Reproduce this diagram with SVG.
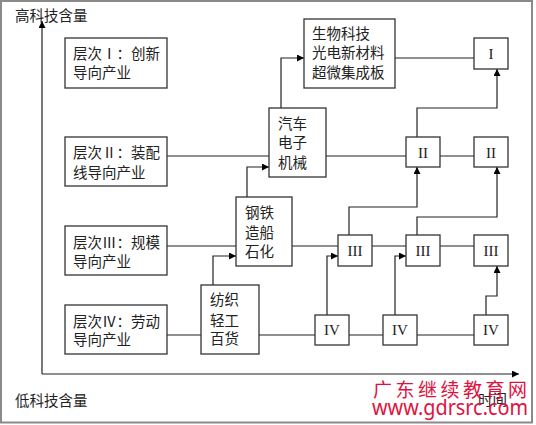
<svg xmlns="http://www.w3.org/2000/svg" width="536" height="425" viewBox="0 0 536 425">
<defs>
<marker id="ah" viewBox="0 0 10 10" refX="10" refY="5" markerWidth="7" markerHeight="7" orient="auto" markerUnits="userSpaceOnUse">
<path d="M0,0 L10,5 L0,10 z" fill="#000"/>
</marker>
</defs>
<style>
.box{fill:#fff;stroke:#333;stroke-width:1.3}
.ln{fill:none;stroke:#222;stroke-width:1.2}
.t{font-family:"Noto Sans CJK SC","Noto Sans",sans-serif;font-size:14.5px;fill:#222}
.r{font-family:"Liberation Serif",serif;font-size:15px;fill:#222;text-anchor:middle}
</style>
<rect x="0" y="0" width="536" height="425" fill="#fff"/>
<rect x="1" y="1" width="531" height="421.5" fill="none" stroke="#8a8a8a" stroke-width="2"/>
<g id="axes">
<line class="ln" x1="42" y1="374" x2="42" y2="21" marker-end="url(#ah)"/>
<line class="ln" x1="42" y1="374" x2="519" y2="374" marker-end="url(#ah)"/>
<text class="t" x="15" y="20.5" font-size="15">高科技含量</text>
<text class="t" x="15" y="405.5" font-size="15">低科技含量</text>
<text class="t" x="478" y="405" font-size="13" fill="#444">时间</text>
</g>
<g id="connectors">
<line class="ln" x1="167" y1="156" x2="269" y2="156"/>
<line class="ln" x1="326" y1="156" x2="406" y2="156"/>
<line class="ln" x1="440" y1="156" x2="474" y2="156"/>
<line class="ln" x1="384" y1="58" x2="474" y2="58"/>
<polyline class="ln" points="281,108 281,58 304,58" marker-end="url(#ah)"/>
<polyline class="ln" points="417,137 417,108 497,108 497,69" marker-end="url(#ah)"/>
<polyline class="ln" points="247,197 247,167 269,167" marker-end="url(#ah)"/>
<line class="ln" x1="167" y1="246" x2="236" y2="246"/>
<line class="ln" x1="292" y1="246" x2="338" y2="246"/>
<line class="ln" x1="372" y1="246" x2="406" y2="246"/>
<line class="ln" x1="440" y1="246" x2="474" y2="246"/>
<polyline class="ln" points="349,235 349,207 417,207 417,167" marker-end="url(#ah)"/>
<polyline class="ln" points="417,235 417,217 497,217 497,167" marker-end="url(#ah)"/>
<polyline class="ln" points="213,285 213,256 236,256" marker-end="url(#ah)"/>
<line class="ln" x1="167" y1="335" x2="201" y2="335"/>
<line class="ln" x1="259" y1="335" x2="315" y2="335"/>
<line class="ln" x1="349" y1="335" x2="383" y2="335"/>
<line class="ln" x1="417" y1="335" x2="474" y2="335"/>
<polyline class="ln" points="327,315 327,256 338,256" marker-end="url(#ah)"/>
<polyline class="ln" points="395,315 395,256 406,256" marker-end="url(#ah)"/>
<polyline class="ln" points="486,315 486,296 497,296 497,266" marker-end="url(#ah)"/>
</g>
<g id="level1">
<rect class="box" x="65" y="38" width="102" height="50"/>
<text class="t" x="73" y="59">层次Ⅰ：创新</text>
<text class="t" x="73" y="78">导向产业</text>
</g>
<g id="level2">
<rect class="box" x="65" y="137" width="102" height="49"/>
<text class="t" x="73" y="158">层次Ⅱ：装配</text>
<text class="t" x="73" y="178">线导向产业</text>
</g>
<g id="level3">
<rect class="box" x="65" y="226" width="102" height="49"/>
<text class="t" x="73" y="248">层次Ⅲ：规模</text>
<text class="t" x="73" y="267">导向产业</text>
</g>
<g id="level4">
<rect class="box" x="65" y="305" width="102" height="49"/>
<text class="t" x="73" y="327">层次Ⅳ：劳动</text>
<text class="t" x="73" y="345">导向产业</text>
</g>
<g id="bio">
<rect class="box" x="304" y="19" width="91" height="69"/>
<text class="t" x="312" y="39">生物科技</text>
<text class="t" x="312" y="58">光电新材料</text>
<text class="t" x="312" y="78">超微集成板</text>
</g>
<g id="auto">
<rect class="box" x="269" y="108" width="57" height="69"/>
<text class="t" x="278" y="129">汽车</text>
<text class="t" x="278" y="148">电子</text>
<text class="t" x="278" y="168">机械</text>
</g>
<g id="steel">
<rect class="box" x="236" y="197" width="56" height="69"/>
<text class="t" x="245" y="218">钢铁</text>
<text class="t" x="245" y="238">造船</text>
<text class="t" x="245" y="257">石化</text>
</g>
<g id="textile">
<rect class="box" x="201" y="285" width="58" height="69"/>
<text class="t" x="210" y="305">纺织</text>
<text class="t" x="210" y="326">轻工</text>
<text class="t" x="210" y="344">百货</text>
</g>
<g id="I1"><rect class="box" x="474" y="38" width="34" height="31"/><text class="r" x="491" y="59">I</text></g>
<g id="II1"><rect class="box" x="406" y="137" width="34" height="30"/><text class="r" x="423" y="158">II</text></g>
<g id="II2"><rect class="box" x="474" y="137" width="34" height="30"/><text class="r" x="491" y="158">II</text></g>
<g id="III1"><rect class="box" x="338" y="235" width="34" height="31"/><text class="r" x="355" y="256">III</text></g>
<g id="III2"><rect class="box" x="406" y="235" width="34" height="31"/><text class="r" x="423" y="256">III</text></g>
<g id="III3"><rect class="box" x="474" y="235" width="34" height="31"/><text class="r" x="491" y="256">III</text></g>
<g id="IV1"><rect class="box" x="315" y="315" width="34" height="30"/><text class="r" x="332" y="335">IV</text></g>
<g id="IV2"><rect class="box" x="383" y="315" width="34" height="30"/><text class="r" x="400" y="335">IV</text></g>
<g id="IV3"><rect class="box" x="474" y="315" width="34" height="30"/><text class="r" x="491" y="335">IV</text></g>
<g id="watermark" fill="#e0123f">
<text x="373" y="397" font-family="Noto Sans CJK SC,sans-serif" font-size="19" letter-spacing="3.5">广东继续教育网</text>
<text x="372" y="415" font-family="Noto Sans,sans-serif" font-size="21" textLength="156" lengthAdjust="spacingAndGlyphs">www.gdrsrc.com</text>
</g>
</svg>
